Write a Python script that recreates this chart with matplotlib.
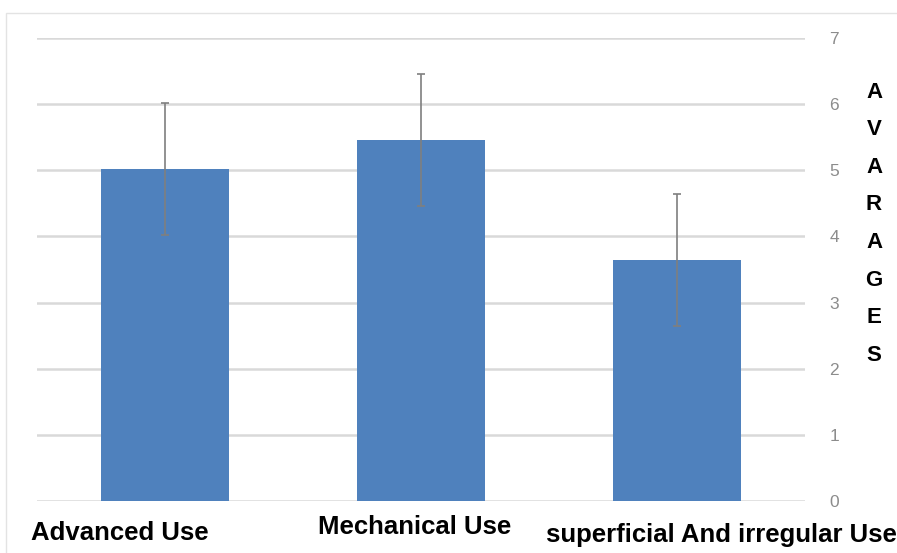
import matplotlib.pyplot as plt
from matplotlib.patches import Rectangle
import numpy as np

# Valeurs
categories = ["Advanced Use", "Mechanical Use", "superficial And irregular Use"]
averages = [5.02, 5.46, 3.64]
errors = [1.0, 1.0, 1.0]
axis_title = "AVARAGES"

fonts = ['Liberation Sans', 'DejaVu Sans']

fig = plt.figure(figsize=(8.97, 5.53), dpi=100)
fig.patches.append(Rectangle((6/897, -0.1), 1.1, 1 - 13/553 + 0.1, transform=fig.transFigure,
                             fill=False, edgecolor='#e3e3e3', linewidth=1))
ax = fig.add_axes([37/897, 1 - 501/553, 768/897, 463/553])

x = np.arange(len(categories))
ax.bar(x, averages, width=0.5, color='#4f81bd', zorder=3)
ax.errorbar(x, averages, yerr=errors, fmt='none', ecolor='#7f7f7f',
            elinewidth=1.2, capsize=3, capthick=1.2, zorder=4)

ax.set_xlim(-0.5, len(categories) - 0.5)
ax.set_ylim(0, 7)
ax.set_yticks(range(0, 8))
ax.yaxis.tick_right()
ax.tick_params(axis='y', length=0, pad=21, labelcolor='#8c8c8c', labelsize=12.5)
for lab in ax.get_yticklabels():
    lab.set_family(fonts)
    lab.set_horizontalalignment('center')
ax.set_xticks([])
ax.grid(axis='y', color='#d9d9d9', linewidth=1.8, zorder=0)
for s in ax.spines.values():
    s.set_visible(False)

# Etiquettes des catégories placées comme dans l'original
label_pos = [(120, 533), (415, 527), (721, 535)]
for name, (px, py) in zip(categories, label_pos):
    fig.text(px / 897, 1 - py / 553, name, ha='center', va='center',
             fontsize=18.5, fontweight='bold', family=fonts)

# Titre vertical lettre par lettre
for i, ch in enumerate(axis_title):
    fig.text(874 / 897, 1 - (92 + i * 37.6) / 553, ch, ha='center', va='center',
             fontsize=16, fontweight='bold', family=fonts)

plt.savefig("out.png", dpi=100)
